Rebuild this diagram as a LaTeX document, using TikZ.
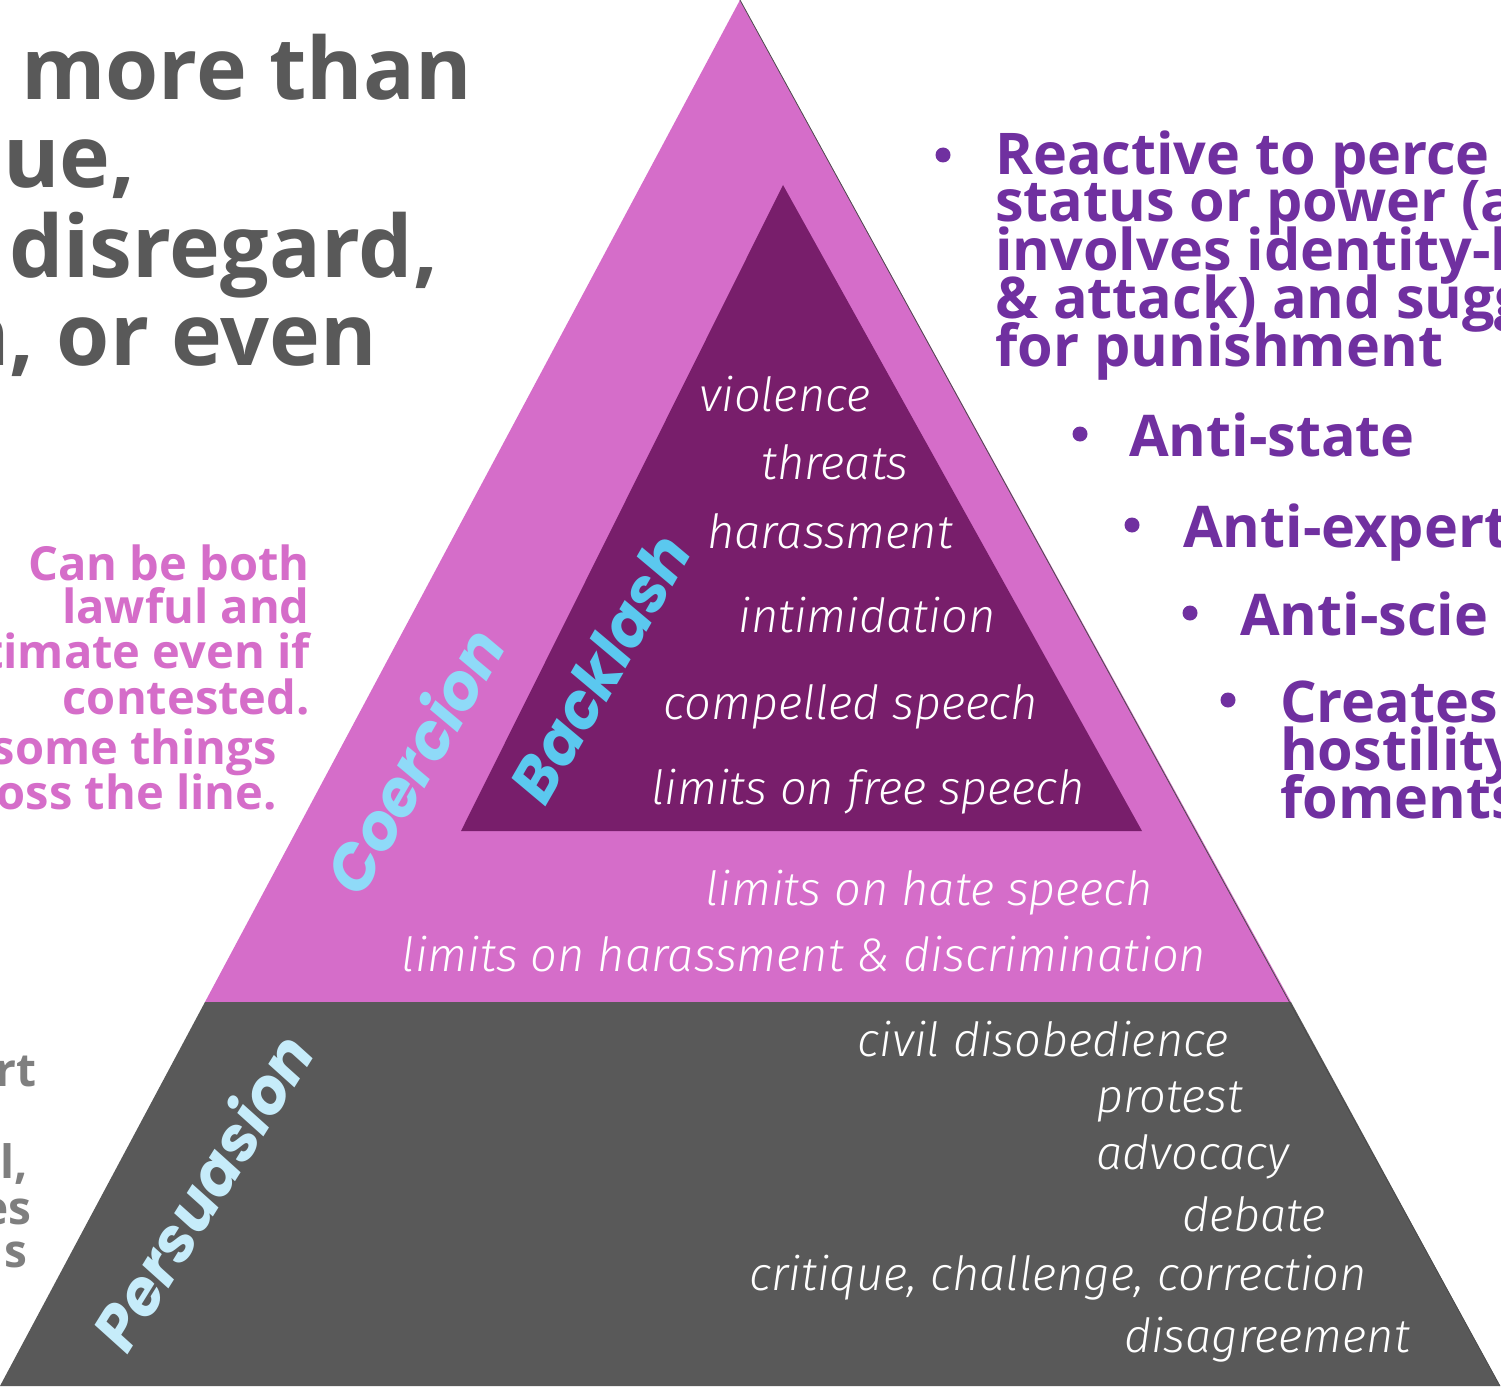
\documentclass[tikz,border=0pt]{standalone}
\usepackage{fontspec}
\setmainfont{Open Sans}
\newfontfamily\lightfont{Fira Sans Light}[ItalicFont={Fira Sans Light Italic}]
\newfontfamily\widefont{Poppins}
\definecolor{pinkc}{HTML}{D56DC9}
\definecolor{plum}{HTML}{781E6B}
\definecolor{slate}{HTML}{595959}
\definecolor{greyT}{HTML}{595959}
\definecolor{greyS}{HTML}{7F7F7F}
\definecolor{purpT}{HTML}{7030A0}
\definecolor{blueA}{HTML}{8FDAF8}
\definecolor{blueB}{HTML}{5BC8EF}
\definecolor{blueC}{HTML}{C6ECFA}
\tikzset{
  graybig/.style={anchor=base west, inner sep=0, text=greyT, font=\bfseries\fontsize{86}{86}\selectfont},
  pinktxt/.style={anchor=base east, inner sep=0, text=pinkc, font=\bfseries\fontsize{47}{47}\selectfont},
  greysmall/.style={anchor=base east, inner sep=0, text=greyS, font=\bfseries\fontsize{46}{46}\selectfont},
  purptxt/.style={anchor=base west, inner sep=0, text=purpT, font=\bfseries\fontsize{57.5}{48}\selectfont},
  lighttxt/.style={anchor=base, inner sep=0, text=white, font=\lightfont\itshape\fontsize{47}{47}\selectfont},
  biglabel/.style={inner sep=0, font=\widefont\bfseries\itshape\fontsize{62}{62}\selectfont},
  bulletdot/.style={circle, fill=purpT, minimum size=15pt, inner sep=0},
}
\begin{document}
\begin{tikzpicture}[x=1pt,y=-1pt]
\useasboundingbox (0,0) rectangle (1501,1391);
\fill[white] (0,0) rectangle (1501,1391);
\clip (0,0) rectangle (1501,1391);

% pyramid
\fill[pinkc] (740,0) -- (205,1002) -- (1291,1002) -- cycle;
\fill[slate] (205,1002) -- (1291,1002) -- (1500,1386) -- (0,1386) -- cycle;
\draw[gray!60!black, line width=0.8pt] (740,0) -- (1500,1386);
\fill[plum] (783,185) -- (461,831) -- (1142,831) -- cycle;

% top-left grey text
\node[graybig] (t1) at (21,100) {more than};
\node[graybig] (t2) at (3,188) {ue,};
\node[graybig] (t3) at (9,277) {disregard,};
\node[graybig] (t4) at (-47,365) {n, or even};

% pink text
\node[pinktxt] (p1) at (310,580) {Can be both};
\node[pinktxt] (p2) at (310,623) {lawful and};
\node[pinktxt] (p3) at (310,668) {timate even if};
\node[pinktxt] (p4) at (310,714) {contested.};
\node[pinktxt] (p5) at (277,764) {some things};
\node[pinktxt] (p6) at (277,809) {oss the line.};

% grey small text
\node[greysmall] (g1) at (37,1086) {rt};
\node[greysmall] (g2) at (28,1178) {l,};
\node[greysmall] (g3) at (32,1224) {es};
\node[greysmall] (g4) at (28,1267) {s};

% right purple text
\node[bulletdot] (b1) at (943,155) {};
\node[purptxt] (r1) at (995,175) {Reactive to perce};
\node[purptxt] (r2) at (995,222) {status or power (a};
\node[purptxt] (r3) at (995,270) {involves identity-l};
\node[purptxt] (r4) at (995,318) {\& attack) and sugg};
\node[purptxt] (r5) at (995,366) {for punishment};
\node[bulletdot] (b2) at (1080,434) {};
\node[purptxt] (r6) at (1129,456) {Anti-state};
\node[bulletdot] (b3) at (1132,525) {};
\node[purptxt] (r7) at (1183,547) {Anti-expert};
\node[bulletdot] (b4) at (1190,613) {};
\node[purptxt] (r8) at (1240,635) {Anti-scie};
\node[bulletdot] (b5) at (1228,700) {};
\node[purptxt] (r9) at (1280,722) {Creates};
\node[purptxt] (r10) at (1280,770) {hostility};
\node[purptxt] (r11) at (1280,818) {foments};

% inner (backlash) lines
\node[lighttxt] (i1) at (785,411) {violence};
\node[lighttxt] (i2) at (835,479) {threats};
\node[lighttxt] (i3) at (830,548) {harassment};
\node[lighttxt] (i4) at (867,632) {intimidation};
\node[lighttxt] (i5) at (851,719) {compelled speech};
\node[lighttxt] (i6) at (868,804) {limits on free speech};
% coercion lines
\node[lighttxt] (c1) at (929,905) {limits on hate speech};
\node[lighttxt] (c2) at (804,971) {limits on harassment \& discrimination};
% persuasion lines
\node[lighttxt] (s1) at (1043,1056) {civil disobedience};
\node[lighttxt] (s2) at (1170,1112) {protest};
\node[lighttxt] (s3) at (1193,1169) {advocacy};
\node[lighttxt] (s4) at (1254,1231) {debate};
\node[lighttxt] (s5) at (1058,1290) {critique, challenge, correction};
\node[lighttxt] (s6) at (1267,1352) {disagreement};

% rotated labels
\node[biglabel, text=blueA, rotate=60, font=\widefont\bfseries\itshape\fontsize{63}{63}\selectfont] (lc) at (413,760) {Coercion};
\node[biglabel, text=blueB, rotate=60] (lb) at (600,668) {Backlash};
\node[biglabel, text=blueC, rotate=58] (lp) at (201,1191) {Persuasion};
\end{tikzpicture}
\end{document}
